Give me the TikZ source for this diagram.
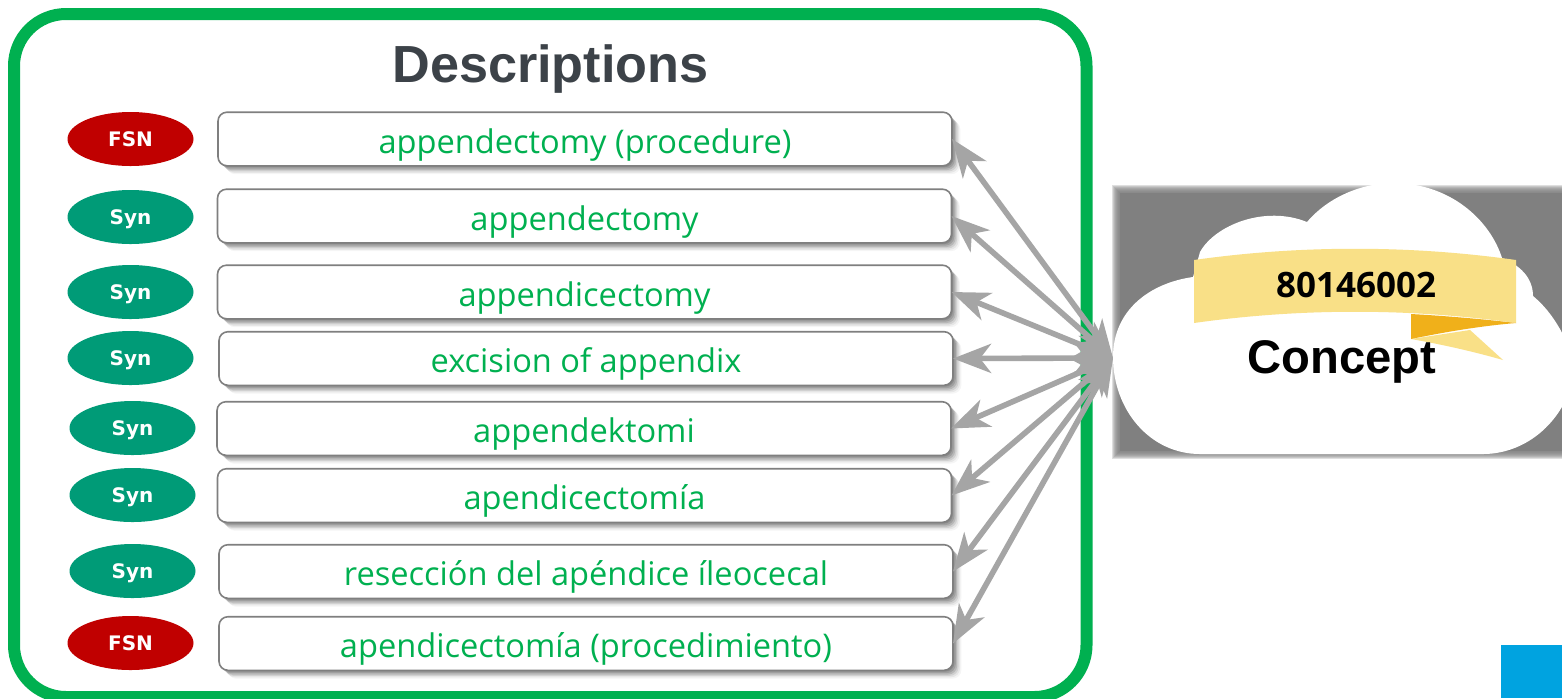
\documentclass[tikz,border=0pt]{standalone}
\usepackage{fontspec}
\setmainfont{Open Sans}
\newfontfamily\titlefont{Liberation Sans}
\newfontfamily\tagfont{DejaVu Sans}
\usetikzlibrary{shadows,arrows.meta,shapes.geometric}
\definecolor{framegreen}{HTML}{00B050}
\definecolor{synfill}{HTML}{009B77}
\definecolor{fsnfill}{HTML}{C00000}
\definecolor{titlegrey}{HTML}{3C4248}
\definecolor{boxline}{HTML}{7F7F7F}
\definecolor{arrowgrey}{HTML}{A5A5A5}
\definecolor{ribbonlight}{HTML}{F9E087}
\definecolor{ribbondark}{HTML}{F0B01A}
\definecolor{cornerblue}{HTML}{00A3E0}
\definecolor{backdropgrey}{HTML}{808080}
\tikzset{
  softshadow/.style={
    general shadow={fill=black,opacity=.13,shadow xshift=.7pt,shadow yshift=-.7pt},
    general shadow={fill=black,opacity=.13,shadow xshift=1.4pt,shadow yshift=-1.4pt},
    general shadow={fill=black,opacity=.12,shadow xshift=2.1pt,shadow yshift=-2.1pt},
    general shadow={fill=black,opacity=.09,shadow xshift=2.8pt,shadow yshift=-2.8pt},
    general shadow={fill=black,opacity=.06,shadow xshift=3.5pt,shadow yshift=-3.5pt},
    general shadow={fill=black,opacity=.04,shadow xshift=4.2pt,shadow yshift=-4.2pt}},
  termbox/.style={draw=boxline,line width=.8pt,fill=white,rounded corners=4.5pt,
    minimum width=367pt,minimum height=26.8pt,inner sep=0pt,outer sep=0pt,
    text height=14pt,text depth=0pt,
    text=framegreen,font=\fontsize{16.3}{20}\selectfont,softshadow},
  tagshape/.style={ellipse,minimum width=63pt,minimum height=27pt,inner sep=0pt,
    text height=7.5pt,text depth=0pt,
    text=white,font=\tagfont\bfseries\fontsize{10}{12}\selectfont},
  fsntag/.style={tagshape,fill=fsnfill},
  syntag/.style={tagshape,fill=synfill},
  linkarrow/.style={draw=arrowgrey,line width=2.8pt,
    {Stealth[length=19pt,width=14.5pt,inset=5.5pt]}-{Stealth[length=19pt,width=14.5pt,inset=5.5pt]}},
}
\begin{document}
\begin{tikzpicture}[x=.5pt,y=-.5pt]
\clip (0,0) rectangle (1562,698);
\fill[white] (0,0) rectangle (1562,698);
% frame
\draw[framegreen,line width=6pt,rounded corners=26pt] (14,14) rectangle (1086.5,697);
\node[font=\titlefont\bfseries\fontsize{26.1}{32}\selectfont,text=titlegrey,inner sep=0pt] (title) at (550.5,69) {Descriptions};
% term boxes
\node[termbox] (b1) at (585,139) {appendectomy (procedure)};
\node[termbox] (b2) at (584.5,216) {appendectomy};
\node[termbox] (b3) at (584.5,292) {appendicectomy};
\node[termbox] (b4) at (586,358.5) {excision of appendix};
\node[termbox] (b5) at (584,428.5) {appendektomi};
\node[termbox] (b6) at (584.5,495.5) {apendicectomía};
\node[termbox] (b7) at (586,571.5) {resección del apéndice íleocecal};
\node[termbox] (b8) at (586,643.5) {apendicectomía (procedimiento)};
% tags
\node[fsntag] (t1) at (130.5,139) {FSN};
\node[syntag] (t2) at (130.5,217) {Syn};
\node[syntag] (t3) at (130.5,292) {Syn};
\node[syntag] (t4) at (130.5,358) {Syn};
\node[syntag] (t5) at (132.5,428) {Syn};
\node[syntag] (t6) at (132.5,495) {Syn};
\node[syntag] (t7) at (132.5,571) {Syn};
\node[fsntag] (t8) at (130.5,643) {FSN};
% grey backdrop with soft edge
\foreach \d in {-4,-3,...,4} {\fill[backdropgrey,opacity=.25] (1116-\d,189-\d) rectangle (1570,455+\d);}
\fill[backdropgrey] (1120,193) rectangle (1570,451);
% cloud
\fill[white] (1113,357) .. controls (1113,310) and (1150,283) .. (1193,277)
  -- (1200,252) .. controls (1215,225) and (1265,205) .. (1307,222)
  .. controls (1330,195) and (1365,183) .. (1393,183)
  .. controls (1450,183) and (1490,220) .. (1502,258)
  .. controls (1520,265) and (1533,278) .. (1533,296)
  .. controls (1550,310) and (1562,330) .. (1570,350)
  -- (1570,390) .. controls (1555,430) and (1520,454) .. (1483,454)
  -- (1200,454) .. controls (1150,454) and (1113,410) .. (1113,357) -- cycle;
% arrows
\coordinate (hub) at (1113,358);
\foreach \n in {1,...,8} {\draw[linkarrow] (hub) -- (b\n.east);}
% ribbon
\fill[ribbonlight] (1411,339) -- (1470,330) -- (1503,360) .. controls (1475,352) and (1445,345) .. (1411,339) -- cycle;
\fill[ribbonlight] (1194,260) .. controls (1300,245) and (1410,245) .. (1516,260)
  -- (1516,323) .. controls (1410,308) and (1300,308) .. (1194,323) -- cycle;
\fill[ribbondark] (1411,314) .. controls (1447,316) and (1482,319) .. (1516,323)
  .. controls (1480,326) and (1445,332) .. (1411,339) -- cycle;
\node[font=\bfseries\fontsize{17.5}{20}\selectfont,text=black,inner sep=0pt] (code) at (1356,285) {80146002};
\node[font=\titlefont\bfseries\fontsize{23.6}{30}\selectfont,text=black,inner sep=0pt] (concept) at (1342,362) {Concept};
% corner
\fill[cornerblue] (1501,645) rectangle (1562,698);
\end{tikzpicture}
\end{document}
